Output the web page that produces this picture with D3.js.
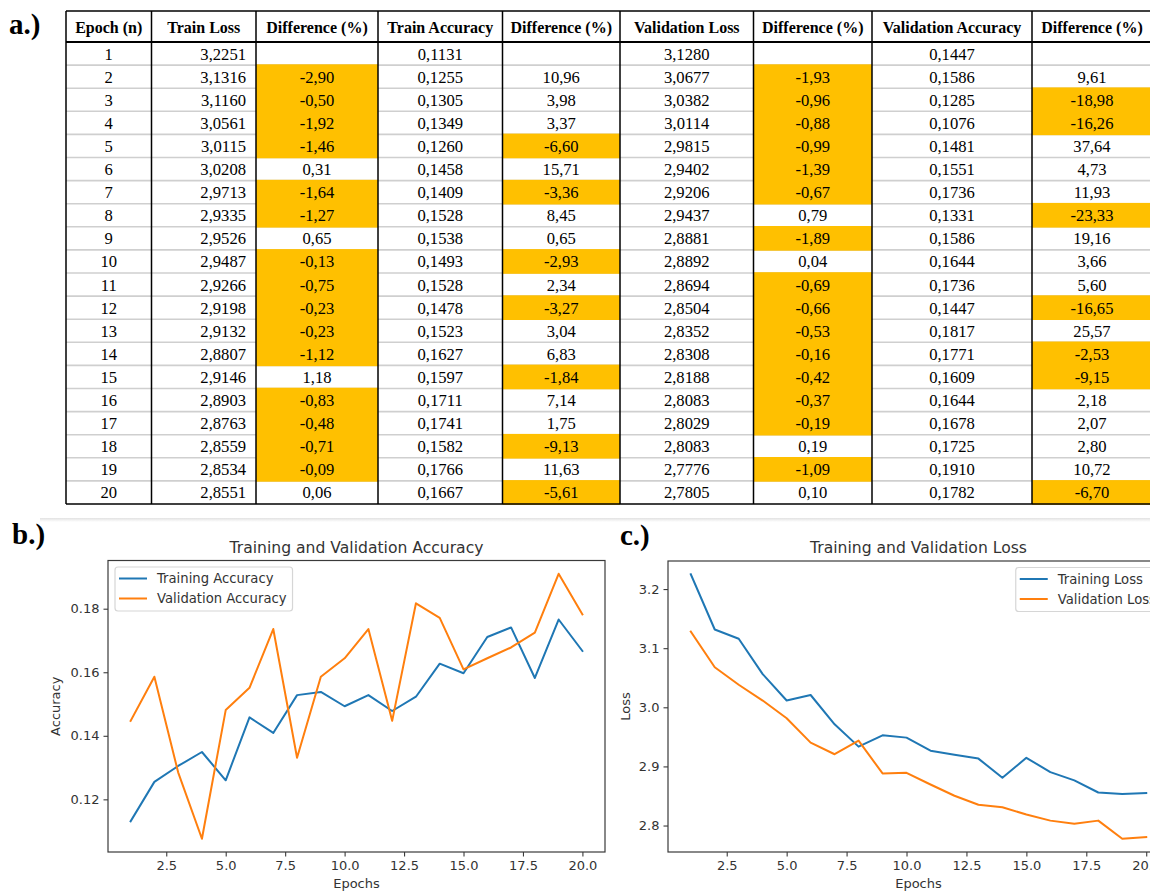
<!DOCTYPE html>
<html><head><meta charset="utf-8">
<script src="https://cdn.jsdelivr.net/npm/d3@7"></script>
<style>
html,body{margin:0;padding:0;background:#fff;overflow:hidden;}
svg{display:block;}
</style></head>
<body>
<svg id="fig" width="1150" height="892"></svg>
<script>
// ---------------- DATA ----------------
const epochs = [1,2,3,4,5,6,7,8,9,10,11,12,13,14,15,16,17,18,19,20];
const trainLoss = [3.2251,3.1316,3.1160,3.0561,3.0115,3.0208,2.9713,2.9335,2.9526,2.9487,2.9266,2.9198,2.9132,2.8807,2.9146,2.8903,2.8763,2.8559,2.8534,2.8551];
const trainLossDiff = [null,-2.90,-0.50,-1.92,-1.46,0.31,-1.64,-1.27,0.65,-0.13,-0.75,-0.23,-0.23,-1.12,1.18,-0.83,-0.48,-0.71,-0.09,0.06];
const trainAcc = [0.1131,0.1255,0.1305,0.1349,0.1260,0.1458,0.1409,0.1528,0.1538,0.1493,0.1528,0.1478,0.1523,0.1627,0.1597,0.1711,0.1741,0.1582,0.1766,0.1667];
const trainAccDiff = [null,10.96,3.98,3.37,-6.60,15.71,-3.36,8.45,0.65,-2.93,2.34,-3.27,3.04,6.83,-1.84,7.14,1.75,-9.13,11.63,-5.61];
const valLoss = [3.1280,3.0677,3.0382,3.0114,2.9815,2.9402,2.9206,2.9437,2.8881,2.8892,2.8694,2.8504,2.8352,2.8308,2.8188,2.8083,2.8029,2.8083,2.7776,2.7805];
const valLossDiff = [null,-1.93,-0.96,-0.88,-0.99,-1.39,-0.67,0.79,-1.89,0.04,-0.69,-0.66,-0.53,-0.16,-0.42,-0.37,-0.19,0.19,-1.09,0.10];
const valAcc = [0.1447,0.1586,0.1285,0.1076,0.1481,0.1551,0.1736,0.1331,0.1586,0.1644,0.1736,0.1447,0.1817,0.1771,0.1609,0.1644,0.1678,0.1725,0.1910,0.1782];
const valAccDiff = [null,9.61,-18.98,-16.26,37.64,4.73,11.93,-23.33,19.16,3.66,5.60,-16.65,25.57,-2.53,-9.15,2.18,2.07,2.80,10.72,-6.70];

const headers = ["Epoch (n)","Train Loss","Difference (%)","Train Accuracy","Difference (%)","Validation Loss","Difference (%)","Validation Accuracy","Difference (%)"];
const accXTicks = [2.5,5,7.5,10,12.5,15,17.5,20];
const accYTicks = [0.12,0.14,0.16,0.18];
const lossXTicks = [2.5,5,7.5,10,12.5,15,17.5,20];
const lossYTicks = [2.8,2.9,3.0,3.1,3.2];

// ---------------- STYLE ----------------
const C0 = "#1f77b4", C1 = "#ff7f0e", HL = "#ffc000";
const serif = "'Liberation Serif','Times New Roman',serif";
const sans = "'DejaVu Sans',sans-serif";
const txt = "#333";

const svg = d3.select("#fig");

// ---------------- TABLE ----------------
const colX = [66,151.5,256,378,502.5,620,753.5,872,1032,1152];
const tTop = 11, hBot = 42, rowH = 23.1;
const tBot = hBot + rowH*epochs.length;
const fmt4 = v => v.toFixed(4).replace(".", ",");
const fmt2 = v => v == null ? "" : v.toFixed(2).replace(".", ",");
const columns = [
  {vals: epochs, f: v => String(v), align: "middle"},
  {vals: trainLoss, f: fmt4, align: "end"},
  {vals: trainLossDiff, f: fmt2, align: "middle", diff: true},
  {vals: trainAcc, f: fmt4, align: "middle"},
  {vals: trainAccDiff, f: fmt2, align: "middle", diff: true},
  {vals: valLoss, f: fmt4, align: "middle"},
  {vals: valLossDiff, f: fmt2, align: "middle", diff: true},
  {vals: valAcc, f: fmt4, align: "middle"},
  {vals: valAccDiff, f: fmt2, align: "middle", diff: true}
];
const rowY = i => hBot + rowH*i;
const tbl = svg.append("g");
epochs.forEach((e,i) => {
  if (i > 0) tbl.append("line").attr("x1", colX[0]).attr("x2", colX[9])
    .attr("y1", rowY(i)).attr("y2", rowY(i)).attr("stroke", "#cfcfcf").attr("stroke-width", 1.6);
});
columns.forEach((c,ci) => {
  if (!c.diff) return;
  c.vals.forEach((v,i) => {
    if (v != null && v < 0) {
      tbl.append("rect").attr("x", colX[ci]).attr("y", rowY(i) - 0.8)
        .attr("width", colX[ci+1]-colX[ci]).attr("height", rowH + 1.6).attr("fill", HL);
    }
  });
});
colX.slice(0, 9).forEach(x => tbl.append("line").attr("x1", x).attr("x2", x).attr("y1", tTop).attr("y2", tBot)
  .attr("stroke", "#000").attr("stroke-width", 1.5));
tbl.append("line").attr("x1", colX[0]).attr("x2", colX[9]).attr("y1", tTop).attr("y2", tTop).attr("stroke", "#000").attr("stroke-width", 1.5);
tbl.append("line").attr("x1", colX[0]).attr("x2", colX[9]).attr("y1", tBot).attr("y2", tBot).attr("stroke", "#000").attr("stroke-width", 1.5);
tbl.append("line").attr("x1", colX[0]).attr("x2", colX[9]).attr("y1", hBot).attr("y2", hBot).attr("stroke", "#000").attr("stroke-width", 2.2);
headers.forEach((h,ci) => {
  tbl.append("text").attr("x", (colX[ci]+colX[ci+1])/2).attr("y", 32.5)
    .attr("text-anchor", "middle").attr("font-family", serif).attr("font-weight", "bold")
    .attr("font-size", "16px").attr("fill", "#000").text(h);
});
columns.forEach((c,ci) => {
  c.vals.forEach((v,i) => {
    const x = c.align === "end" ? colX[ci+1] - 10 : (colX[ci]+colX[ci+1])/2;
    tbl.append("text").attr("x", x).attr("y", rowY(i) + rowH/2 + 6)
      .attr("text-anchor", c.align).attr("font-family", serif).attr("font-size", "16.6px")
      .attr("fill", "#000").text(c.f(v));
  });
});

const panelLabel = (t,x,y) => svg.append("text").attr("x", x).attr("y", y).attr("font-family", serif)
  .attr("font-weight", "bold").attr("font-size", "29px").attr("fill", "#000").text(t);
panelLabel("a.)", 9, 33.5);

const grad = svg.append("defs").append("linearGradient").attr("id", "shadow").attr("x1", 0).attr("x2", 0).attr("y1", 0).attr("y2", 1);
grad.append("stop").attr("offset", "0%").attr("stop-color", "#e2e2e2");
grad.append("stop").attr("offset", "100%").attr("stop-color", "#ffffff");
svg.append("rect").attr("x", 40).attr("y", 518).attr("width", 1110).attr("height", 4).attr("fill", "url(#shadow)");

panelLabel("b.)", 12, 543.5);
panelLabel("c.)", 620, 544.5);

// ---------------- CHARTS ----------------
function mplDomain(arr) {
  const lo = d3.min(arr), hi = d3.max(arr), m = (hi - lo) * 0.05;
  return [lo - m, hi + m];
}
function chart(opt) {
  const g = svg.append("g");
  const x = d3.scaleLinear().domain(mplDomain(epochs)).range([opt.left, opt.right]);
  const allY = opt.series.flatMap(s => s.vals);
  const y = d3.scaleLinear().domain(mplDomain(allY)).range([opt.bottom, opt.top]);
  const defsId = "clip" + opt.id;
  svg.select("defs").append("clipPath").attr("id", defsId).append("rect")
    .attr("x", opt.left).attr("y", opt.top).attr("width", opt.right-opt.left).attr("height", opt.bottom-opt.top);
  const line = d3.line().x((d,i) => x(epochs[i])).y(d => y(d));
  opt.series.forEach(s => {
    g.append("path").datum(s.vals).attr("d", line).attr("fill", "none")
      .attr("stroke", s.color).attr("stroke-width", 2).attr("stroke-linejoin", "round")
      .attr("stroke-linecap", "square").attr("clip-path", `url(#${defsId})`);
  });
  g.append("rect").attr("x", opt.left).attr("y", opt.top).attr("width", opt.right-opt.left)
    .attr("height", opt.bottom-opt.top).attr("fill", "none").attr("stroke", "#3a3a3a").attr("stroke-width", 1.2);
  const xa = g.append("g").attr("transform", `translate(0,${opt.bottom})`)
    .call(d3.axisBottom(x).tickValues(opt.xTicks).tickFormat(d3.format(".1f")).tickSize(4.5).tickPadding(4));
  const ya = g.append("g").attr("transform", `translate(${opt.left},0)`)
    .call(d3.axisLeft(y).tickValues(opt.yTicks).tickFormat(opt.yFmt).tickSize(4.5).tickPadding(4));
  [xa, ya].forEach(a => {
    a.select(".domain").remove();
    a.selectAll("line").attr("stroke", "#3a3a3a").attr("stroke-width", 1.1);
    a.selectAll("text").attr("font-family", sans).attr("font-size", "13px").attr("fill", txt);
  });
  g.append("text").attr("x", (opt.left+opt.right)/2).attr("y", opt.top - 8).attr("text-anchor", "middle")
    .attr("font-family", sans).attr("font-size", "15.6px").attr("fill", txt).text(opt.title);
  g.append("text").attr("x", (opt.left+opt.right)/2).attr("y", opt.bottom + 36).attr("text-anchor", "middle")
    .attr("font-family", sans).attr("font-size", "13px").attr("fill", txt).text("Epochs");
  g.append("text").attr("transform", `translate(${opt.yLabelX},${(opt.top+opt.bottom)/2}) rotate(-90)`)
    .attr("text-anchor", "middle").attr("font-family", sans).attr("font-size", "13px").attr("fill", txt).text(opt.yLabel);
  const lg = g.append("g");
  const texts = opt.series.map((s,i) => lg.append("text").attr("font-family", sans).attr("font-size", "13.2px")
    .attr("fill", txt).text(s.name));
  const tw = d3.max(texts, t => t.node().getComputedTextLength());
  const boxW = 5 + 27 + 10 + tw + 6, boxH = 44;
  const bx = opt.legend === "left" ? opt.left + 7 : opt.right - 7 - boxW;
  const by = opt.top + 6.5;
  lg.insert("rect", "text").attr("x", bx).attr("y", by).attr("width", boxW).attr("height", boxH)
    .attr("rx", 3).attr("fill", "#fff").attr("fill-opacity", 0.85).attr("stroke", "#d6d6d6").attr("stroke-width", 1.2);
  opt.series.forEach((s,i) => {
    const cy = by + 11.5 + i*20;
    lg.append("line").attr("x1", bx+4).attr("x2", bx+32).attr("y1", cy).attr("y2", cy)
      .attr("stroke", s.color).attr("stroke-width", 2);
    texts[i].attr("x", bx + 42).attr("y", cy + 4.6);
  });
}

chart({id: "b", left: 108, right: 605, top: 560.5, bottom: 852, yLabelX: 60,
  title: "Training and Validation Accuracy", yLabel: "Accuracy",
  xTicks: accXTicks, yTicks: accYTicks, yFmt: d3.format(".2f"), legend: "left",
  series: [{name: "Training Accuracy", vals: trainAcc, color: C0},
           {name: "Validation Accuracy", vals: valAcc, color: C1}]});

chart({id: "c", left: 668, right: 1169, top: 561, bottom: 852, yLabelX: 630,
  title: "Training and Validation Loss", yLabel: "Loss",
  xTicks: lossXTicks, yTicks: lossYTicks, yFmt: d3.format(".1f"), legend: "right",
  series: [{name: "Training Loss", vals: trainLoss, color: C0},
           {name: "Validation Loss", vals: valLoss, color: C1}]});
</script>
</body></html>
